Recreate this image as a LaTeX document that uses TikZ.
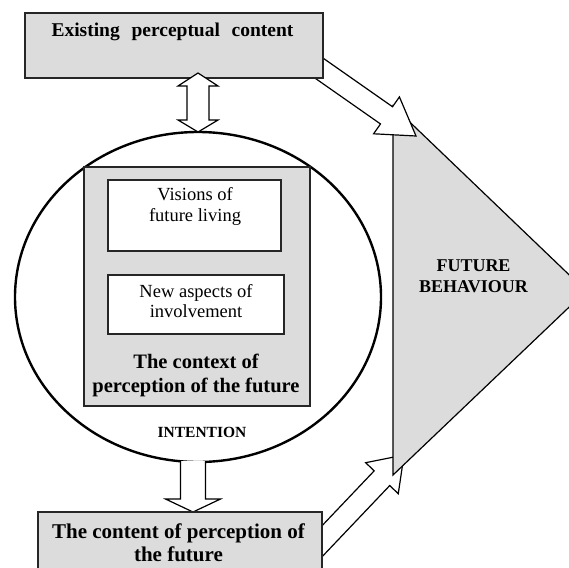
\documentclass[tikz,border=0pt]{standalone}
\usepackage{fontspec}
\setmainfont{Liberation Serif}
\usetikzlibrary{calc,shapes.geometric}
\definecolor{boxgray}{RGB}{220,220,220}
\tikzset{
  graybox/.style={draw=black!85, fill=boxgray, line width=1.4pt, inner sep=0pt, outer sep=0pt},
  whitebox/.style={draw=black!85, fill=white, line width=1.8pt, inner sep=0pt, outer sep=0pt},
  barrow/.style={draw=black, fill=white, line width=1.2pt, line join=miter},
  tri/.style={draw=black, fill=boxgray, line width=1.2pt, line join=miter},
  oval/.style={draw=black, fill=white, line width=2.4pt, ellipse, inner sep=0pt},
  lbl/.style={inner sep=0pt, align=center, text=black},
}
\newcommand\fsz[2]{\fontsize{#1}{#2}\selectfont}
% block arrow: #1 start, #2 tip, #3 half shaft, #4 half head, #5 head length
\newcommand\blockarrow[5]{%
  \path ($(#2)!#5!(#1)$) coordinate (#2-base);
  \draw[barrow] ($(#1)!#3!90:(#2)$) -- ($(#2-base)!#3!90:(#2)$)
    -- ($(#2-base)!#4!90:(#2)$) -- (#2) -- ($(#2-base)!#4!-90:(#2)$)
    -- ($(#2-base)!#3!-90:(#2)$) -- ($(#1)!#3!-90:(#2)$) -- cycle;
}
\begin{document}
\begin{tikzpicture}[x=1pt,y=-1pt]
\useasboundingbox (0,0) rectangle (569,567);
\clip (0,0) rectangle (569,567);

% arrow from bottom box to triangle (under the triangle)
\coordinate (bs) at (308,556);
\coordinate (bt) at (404,455);
\blockarrow{bs}{bt}{10.7pt}{22.5pt}{32pt}

% triangle
\coordinate (t1) at (393,106);
\coordinate (t2) at (586,291);
\coordinate (t3) at (393,475);
\draw[tri] (t1) -- (t2) -- (t3) -- cycle;
\node[lbl, font=\bfseries\fsz{18}{21}] (fb) at (473.5,276.5) {FUTURE\\BEHAVIOUR};

% arrow from top box to triangle (over the triangle)
\coordinate (as) at (300,54.8);
\coordinate (at) at (416,136);
\blockarrow{as}{at}{10.5pt}{22.5pt}{36pt}

% top box
\node[graybox, minimum width=298pt, minimum height=65pt] (top) at (174,45.5) {};
\node[lbl, font=\bfseries\fsz{19.5}{23}] (toptxt) at (172.5,32) {Existing\hspace{0.35em} perceptual\hspace{0.35em} content};

% ellipse
\node[oval, minimum width=366pt, minimum height=330pt] (circ) at (198,297) {};

% double arrow
\coordinate (dt) at (198,73);
\coordinate (db) at (198,132);
\draw[barrow] (dt) -- ++(20,13) -- ++(-9,0) -- ++(0,34) -- ++(9,0) -- (db)
  -- ++(-20,-12) -- ++(9,0) -- ++(0,-34) -- ++(-9,0) -- cycle;

% inner gray box
\node[graybox, minimum width=226pt, minimum height=239pt] (ctx) at (197,286.5) {};
\node[whitebox, minimum width=173pt, minimum height=71pt] (vis) at (194.5,215.5) {};
\node[lbl, font=\fsz{18.5}{20.5}] (vistxt) at (195,206.5) {Visions of\\future living};
\node[whitebox, minimum width=176pt, minimum height=59pt] (nas) at (196,304.5) {};
\node[lbl, font=\fsz{18.5}{20}] (nastxt) at (196,301.5) {New aspects of\\involvement};
\node[lbl, font=\bfseries\fsz{20.5}{24}] (ctxtxt) at (196,375) {The context of\\perception of the future};

\node[lbl, font=\bfseries\fsz{15.5}{18}] (int) at (202,432) {INTENTION};

% lower arrow
\coordinate (lt) at (193,512);
\draw[barrow] (180.5,461) -- (180.5,499) -- (165.5,499) -- (lt) -- (220.5,499)
  -- (205.5,499) -- (205.5,461);

% bottom box
\node[graybox, minimum width=284pt, minimum height=66pt] (bot) at (180,545) {};
\node[lbl, font=\bfseries\fsz{21}{23}] (bottxt) at (178.5,543) {The content of perception of\\the future};
\end{tikzpicture}
\end{document}
